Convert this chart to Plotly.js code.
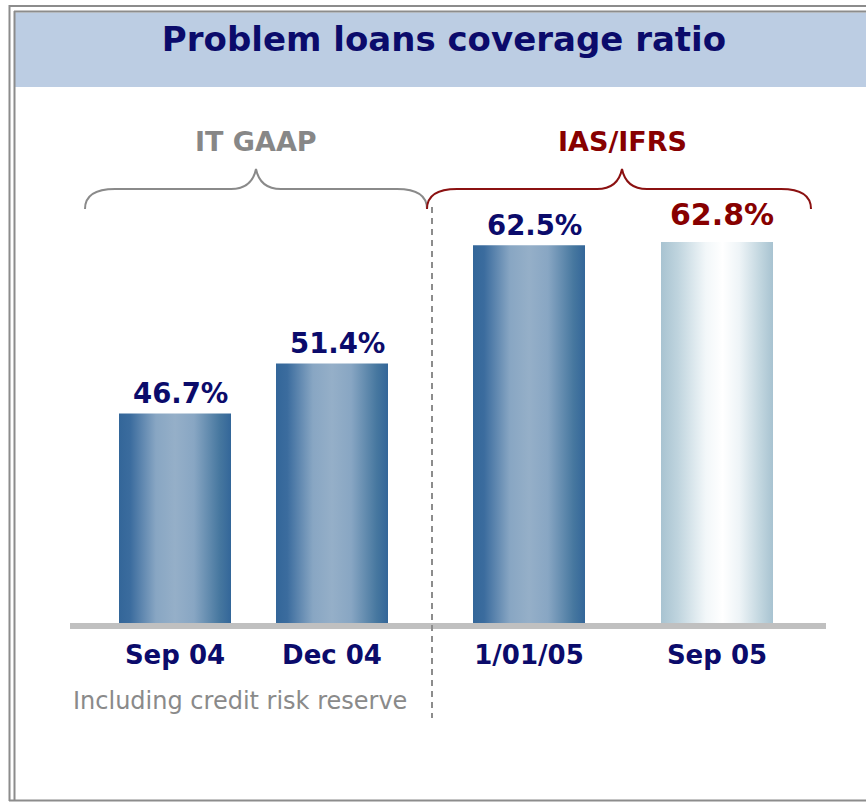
<!DOCTYPE html>
<html><head><meta charset="utf-8">
<script src="https://cdn.plot.ly/plotly-3.0.1.min.js"></script>
<style>html,body{margin:0;padding:0;background:#fff}#chart{width:866px;height:802px}</style>
</head><body><div id="chart"></div>
<script>
// ---- data ----
const categories = ['Sep 04', 'Dec 04', '1/01/05', 'Sep 05'];
const coverageRatio = [46.7, 51.4, 62.5, 62.8];
const accountingStandard = ['IT GAAP', 'IT GAAP', 'IAS/IFRS', 'IAS/IFRS'];
const groupLabels = ['IT GAAP', 'IAS/IFRS'];
const chartTitle = 'Problem loans coverage ratio';
const footnote = 'Including credit risk reserve';

// ---- layout constants ----
const W = 866, H = 802, PT = 100, PB = 623;
const YMIN = 27, PX_PER_UNIT = 10.64;
const YMAX = YMIN + (PB - PT) / PX_PER_UNIT;
const BAR_PX = 112;
const NAVY = '#0b0b6b', RED = '#870000', GRAY = '#878787';
const FONT = '"DejaVu Sans", Verdana, sans-serif';
const DARK = [[0,'#336699'],[0.1,'#3b6c9e'],[0.33,'#88a6c3'],[0.5,'#95afc8'],[0.67,'#88a6c3'],[0.9,'#46779f'],[1,'#336699']];
const LIGHT = [[0,'#a8c3d1'],[0.15,'#bfd4de'],[0.4,'#f2f7f9'],[0.55,'#ffffff'],[0.7,'#eef4f7'],[0.88,'#c3d7e0'],[1,'#a8c3d1']];
const panels = [
  {axis: 'x', layoutKey: 'xaxis', domainPx: [96.5, 410.5], labelColor: GRAY, bracket: [85, 427]},
  {axis: 'x2', layoutKey: 'xaxis2', domainPx: [435, 811], labelColor: RED, bracket: [427, 811]}
];
const highlightIndex = coverageRatio.length - 1;

const X = px => px / W;
const Y = py => (PB - py) / (PB - PT);

const traces = [];
const annotations = [];
const layout = {
  width: W, height: H,
  margin: {l: 0, r: 0, t: PT, b: H - PB, pad: 0},
  paper_bgcolor: '#ffffff', plot_bgcolor: 'rgba(0,0,0,0)',
  showlegend: false,
  title: {
    text: chartTitle, x: 444 / W, xanchor: 'center', xref: 'paper',
    y: 1 - 39 / H, yref: 'container', yanchor: 'middle',
    font: {family: FONT, size: 34, color: NAVY, weight: 'bold'}
  },
  yaxis: {range: [YMIN, YMAX], visible: false, fixedrange: true},
  shapes: [],
  annotations: annotations
};

panels.forEach((p, g) => {
  const idx = categories.map((c, i) => i).filter(i => accountingStandard[i] === groupLabels[g]);
  const pxPerUnit = (p.domainPx[1] - p.domainPx[0]) / idx.length;
  const hw = BAR_PX / 2 / pxPerUnit;
  layout[p.layoutKey] = {
    domain: [X(p.domainPx[0]), X(p.domainPx[1])],
    range: [-0.5, idx.length - 0.5],
    tickvals: idx.map((i, k) => k),
    ticktext: idx.map(i => categories[i]),
    showgrid: false, zeroline: false, showline: false, ticks: '',
    ticklabelstandoff: 14,
    tickfont: {family: FONT, size: 26, color: NAVY, weight: 'bold'},
    fixedrange: true, anchor: 'y'
  };
  idx.forEach((i, k) => {
    const v = coverageRatio[i];
    const hi = i === highlightIndex;
    traces.push({
      type: 'scatter', mode: 'lines', xaxis: p.axis, yaxis: 'y',
      x: [k - hw, k + hw, k + hw, k - hw, k - hw],
      y: [0, 0, v, v, 0],
      fill: 'toself', line: {width: 0, color: 'rgba(0,0,0,0)'},
      fillgradient: {type: 'horizontal', colorscale: hi ? LIGHT : DARK},
      hoverinfo: 'skip', name: categories[i]
    });
    annotations.push({
      xref: p.axis, yref: 'y', x: k, y: v, text: v.toFixed(1) + '%',
      showarrow: false, xanchor: 'center', yanchor: 'bottom', xshift: 5, yshift: hi ? 8 : 2,
      font: {family: FONT, size: hi ? 30 : 27.5, color: hi ? RED : NAVY, weight: 'bold'}
    });
  });
  // group label
  const cx = (p.bracket[0] + p.bracket[1]) / 2 + (g === 0 ? 0 : 3);
  annotations.push({
    xref: 'paper', yref: 'paper', x: X(cx), y: Y(142), text: groupLabels[g],
    showarrow: false, xanchor: 'center', yanchor: 'middle',
    font: {family: FONT, size: 27, color: p.labelColor, weight: 'bold'}
  });
});

annotations.push({
  xref: 'paper', yref: 'paper', x: X(71), y: Y(701), text: footnote,
  showarrow: false, xanchor: 'left', yanchor: 'middle',
  font: {family: FONT, size: 24, color: '#8a8a8a'}
});

// ---- decorations ----
const S = layout.shapes;
const line = (x0, y0, x1, y1, color, width, dash, layer) => S.push({
  type: 'line', xref: 'paper', yref: 'paper', x0: X(x0), y0: Y(y0), x1: X(x1), y1: Y(y1),
  line: {color: color, width: width, dash: dash || 'solid'}, layer: layer || 'above'
});
// header band
S.push({type: 'rect', xref: 'paper', yref: 'paper', x0: X(15), x1: X(W + 2), y0: Y(87), y1: Y(12.5),
  fillcolor: '#bccde3', line: {width: 0}, layer: 'below'});
// frame (double line on top & left)
line(9.5, 5, 9.5, 801, '#8c8c8c', 2);
line(9, 6, W + 2, 6, '#8c8c8c', 2);
line(14.5, 11, 14.5, 801, '#8c8c8c', 2);
line(14, 11.5, W + 2, 11.5, '#8c8c8c', 2);
line(9, 800.5, W + 2, 800.5, '#8c8c8c', 2);
// baseline
line(70, 626, 826, 626, '#c0c0c0', 6);
// dashed divider
line(432, 207, 432, 718, '#8c8c8c', 2, '6px,5px');
// brackets
function bracketPath(a, b, top, peak, end) {
  const c = (a + b) / 2 + (a > 200 ? 3 : 0);
  const P = (x, y) => X(x) + ',' + Y(y);
  return 'M ' + P(a, end) + ' Q ' + P(a, top) + ' ' + P(a + 30, top) +
    ' L ' + P(c - 25, top) + ' Q ' + P(c - 4, top) + ' ' + P(c, peak) +
    ' Q ' + P(c + 4, top) + ' ' + P(c + 25, top) +
    ' L ' + P(b - 30, top) + ' Q ' + P(b, top) + ' ' + P(b, end);
}
panels.forEach((p, g) => {
  S.push({type: 'path', xref: 'paper', yref: 'paper',
    path: bracketPath(p.bracket[0], p.bracket[1], 189, 169, 209),
    line: {color: g === 0 ? '#8a8a8a' : '#8b1111', width: 2}, layer: 'above'});
});

Plotly.newPlot('chart', traces, layout, {staticPlot: true, displayModeBar: false});
</script></body></html>
